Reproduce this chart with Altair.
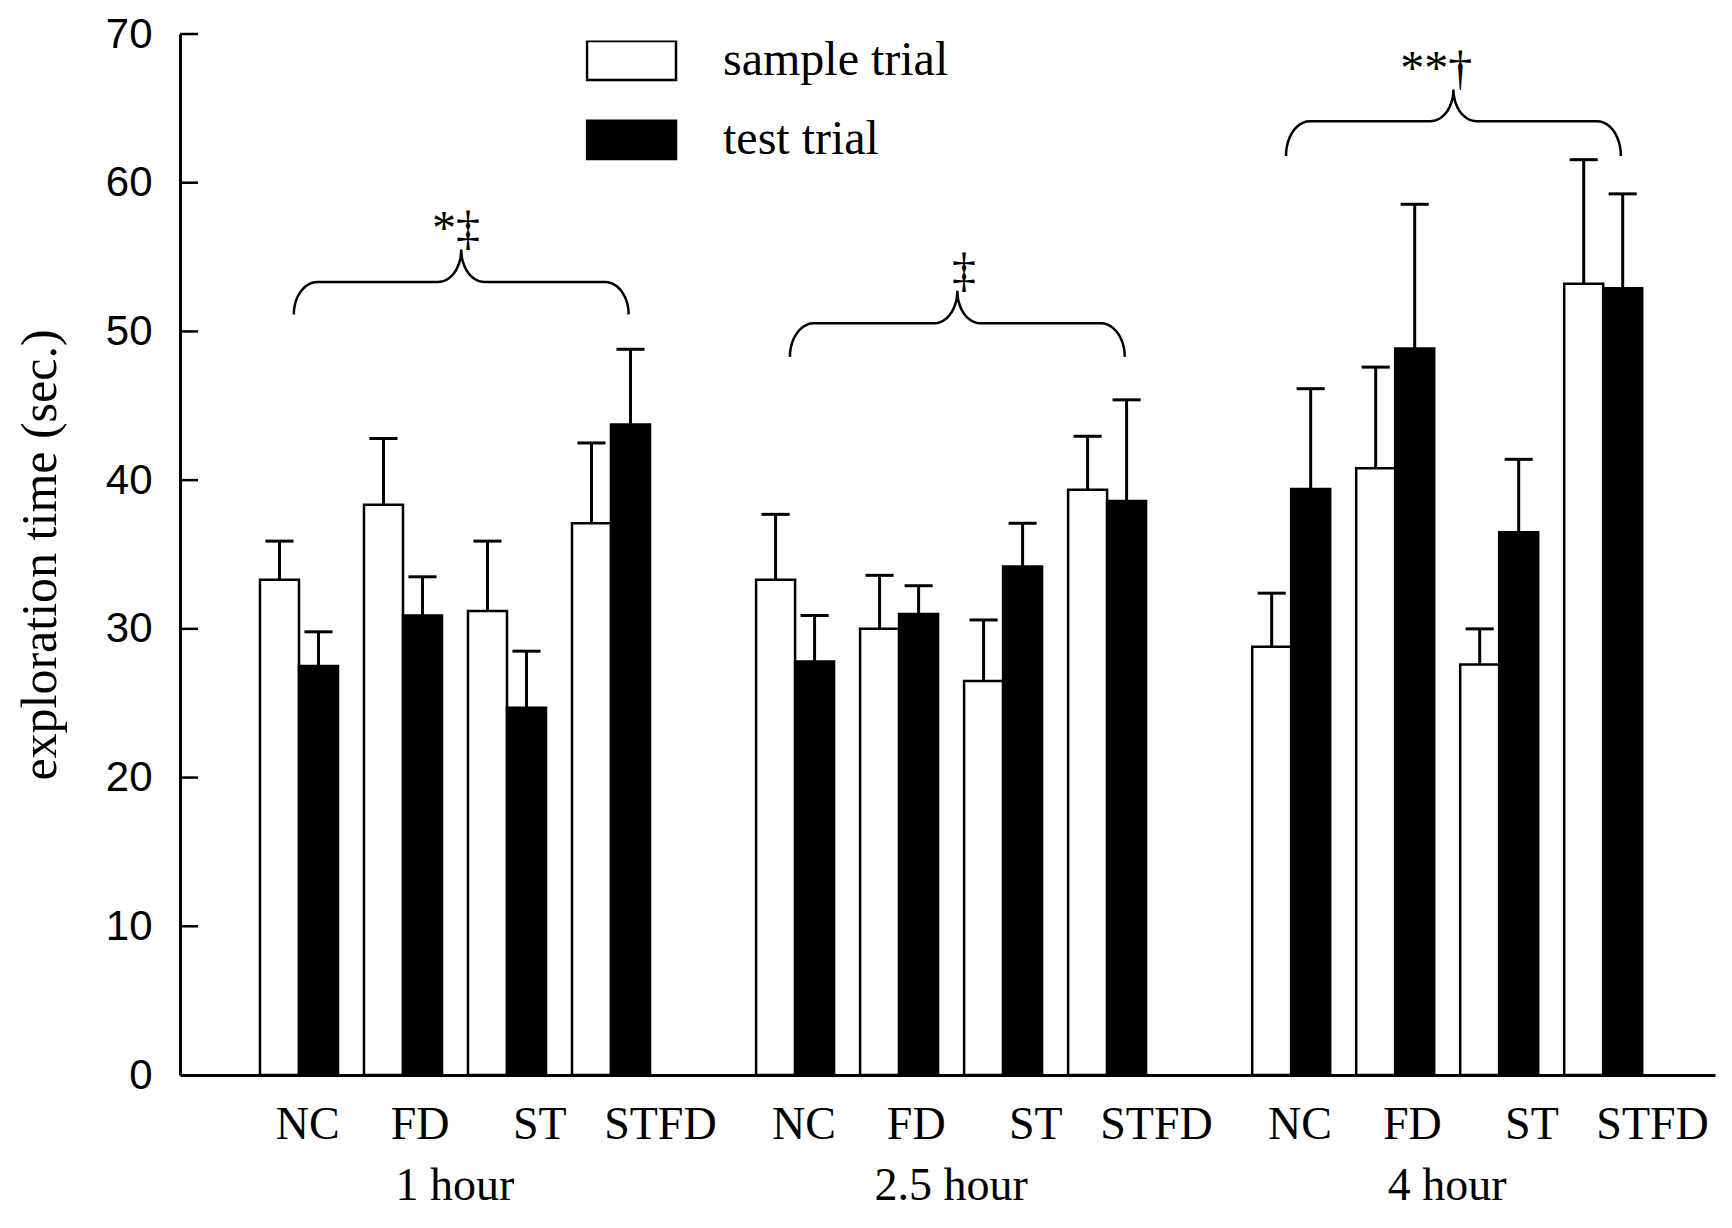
import json
import numpy as np
import pandas as pd
import altair as alt

# ---------------- data ----------------
hours = ["1 hour", "2.5 hour", "4 hour"]
treatments = ["NC", "FD", "ST", "STFD"]
trials = ["sample trial", "test trial"]

# order: hour-major, treatment-minor
sample_mean = [33.3, 38.35, 31.2, 37.1, 33.3, 30.0, 26.5, 39.35, 28.8, 40.8, 27.6, 53.2]
sample_se = [2.6, 4.45, 4.7, 5.4, 4.4, 3.6, 4.1, 3.6, 3.6, 6.8, 2.4, 8.35]
test_mean = [27.5, 30.9, 24.7, 43.75, 27.8, 31.0, 34.2, 38.6, 39.4, 48.85, 36.5, 52.9]
test_se = [2.3, 2.6, 3.8, 5.05, 3.1, 1.9, 2.9, 6.8, 6.75, 9.7, 4.9, 6.35]

sig_text = ["*\u2021", "\u2021", "**\u2020"]
brace_tip = [51.15, 48.29, 61.8]
brace_bar = [53.33, 50.55, 64.14]
brace_peak = [55.5, 52.73, 66.27]
y_ticks = [0, 10, 20, 30, 40, 50, 60, 70]

# ---------------- layout / style constants ----------------
GROUP_STEP = 4.77
BAR_W = 0.375
CAP_HALF = 0.135
X_DOMAIN = [-1.144, 13.615]
LABEL_NUDGE = [0.08, 0.16, 0.31, 0.47]
BRACE_PAD = (-0.05, 0.17)
END_W = 0.23
CUSP_W = 0.22
SIG_DX = 0.18
SIG_DY = 0.35
SERIF = "Liberation Serif"
SANS = "Liberation Sans"

# ---------------- tables ----------------
rows = []
for g, h in enumerate(hours):
    for t, tr in enumerate(treatments):
        i = g * 4 + t
        rows.append(dict(hour=h, treatment=tr, gi=g, ti=t, trial=trials[0],
                         mean=sample_mean[i], se=sample_se[i]))
        rows.append(dict(hour=h, treatment=tr, gi=g, ti=t, trial=trials[1],
                         mean=test_mean[i], se=test_se[i]))
df = pd.DataFrame(rows)

brace_rows = []
sig_rows = []
th = np.linspace(0, np.pi / 2, 12)
for g in range(len(hours)):
    xl = g * GROUP_STEP + BRACE_PAD[0]
    xr = g * GROUP_STEP + 3 + BRACE_PAD[1]
    xm = (xl + xr) / 2
    yb, yh, yp = brace_tip[g], brace_bar[g], brace_peak[g]
    pts = []
    pts += [(xl + END_W * (1 - np.cos(a)), yb + (yh - yb) * np.sin(a)) for a in th]
    pts += [(xm - CUSP_W + CUSP_W * np.sin(a), yh + (yp - yh) * (1 - np.cos(a))) for a in th]
    pts += [(xm + CUSP_W - CUSP_W * np.sin(a), yh + (yp - yh) * (1 - np.cos(a))) for a in th[::-1]]
    pts += [(xr - END_W * (1 - np.cos(a)), yb + (yh - yb) * np.sin(a)) for a in th[::-1]]
    for k, (bx, by) in enumerate(pts):
        brace_rows.append(dict(brace=g, k=k, bx=float(bx), by=float(by)))
    sig_rows.append(dict(sig=sig_text[g], sx=xm + SIG_DX, sy=yp + SIG_DY))
df_brace = pd.DataFrame(brace_rows)
df_sig = pd.DataFrame(sig_rows)
df_hours = pd.DataFrame({"hour": hours, "gi": list(range(len(hours)))})
df_ticks = pd.DataFrame({"v": y_ticks[1:]})

tick_vals = [round(g * GROUP_STEP + t + LABEL_NUDGE[t], 4)
             for g in range(len(hours)) for t in range(len(treatments))]
tick_labels = treatments * len(hours)
label_expr = f"{json.dumps(tick_labels)}[indexof({json.dumps(tick_vals)}, datum.value)]"

xscale = alt.Scale(domain=X_DOMAIN, nice=False, zero=False)
yscale = alt.Scale(domain=[0, 70], nice=False, zero=True)

x_axis = alt.Axis(values=tick_vals, labelExpr=label_expr, title=None, ticks=False, grid=False,
                  domainColor="black", domainWidth=3, labelFont=SERIF, labelFontSize=46,
                  labelColor="black", labelPadding=27, labelOverlap=False, labelFlush=False,
                  labelBound=False)
y_axis = alt.Axis(values=y_ticks, title="exploration time (sec.)", ticks=False, grid=False,
                  domainColor="black", domainWidth=3, labelFont=SANS, labelFontSize=42,
                  labelColor="black", labelPadding=28, labelFlush=False, labelOverlap=False,
                  titleFont=SERIF, titleFontSize=50, titleFontWeight="normal",
                  titleColor="black", titlePadding=40)

legend_path = "M-1,-0.44L1,-0.44L1,0.44L-1,0.44Z"

base = alt.Chart(df).transform_calculate(
    c=f"datum.gi * {GROUP_STEP} + datum.ti",
).transform_calculate(
    x1=f"datum.c - (datum.trial == '{trials[0]}' ? {BAR_W} : 0)",
).transform_calculate(
    x2=f"datum.x1 + {BAR_W}",
    xe=f"datum.x1 + {BAR_W / 2}",
    top="datum.mean + datum.se",
).transform_calculate(
    cl=f"datum.xe - {CAP_HALF}",
    cr=f"datum.xe + {CAP_HALF}",
)


def X(field):
    return alt.X(field, scale=xscale, axis=x_axis)


def Y(field):
    return alt.Y(field, scale=yscale, axis=y_axis)


bars = base.mark_bar(stroke="black", strokeWidth=2.5).encode(
    x=X("x1:Q"),
    x2="x2:Q",
    y=Y("mean:Q"),
    y2=alt.datum(0),
    fill=alt.Fill("trial:N", scale=alt.Scale(domain=trials, range=["white", "black"]),
                  legend=alt.Legend(title=None, orient="none", legendX=405.5, legendY=6.5,
                                    symbolType=legend_path, symbolSize=7921,
                                    symbolStrokeColor="black", symbolStrokeWidth=2.5,
                                    labelFont=SERIF, labelFontSize=48, labelColor="black",
                                    labelOffset=45.5, labelLimit=400, rowPadding=31,
                                    clipHeight=40, padding=0)),
)

err = base.mark_rule(color="black", strokeWidth=3).encode(
    x=X("xe:Q"),
    y=Y("mean:Q"),
    y2="top:Q",
)
caps = base.mark_rule(color="black", strokeWidth=3).encode(
    x=X("cl:Q"),
    x2="cr:Q",
    y=Y("top:Q"),
)

yticks = alt.Chart(df_ticks).mark_rule(color="black", strokeWidth=2.5).encode(
    y=Y("v:Q"),
    x=alt.value(0),
    x2=alt.value(18),
)

braces = alt.Chart(df_brace).mark_line(color="black", strokeWidth=2.5).encode(
    x=X("bx:Q"),
    y=Y("by:Q"),
    detail="brace:N",
    order="k:Q",
)

sigs = alt.Chart(df_sig).mark_text(font=SERIF, fontSize=48, align="right",
                                   baseline="alphabetic", color="black").encode(
    x=X("sx:Q"),
    y=Y("sy:Q"),
    text="sig:N",
)

hour_labels = alt.Chart(df_hours).transform_calculate(
    gx=f"datum.gi * {GROUP_STEP} + 1.5"
).mark_text(
    font=SERIF, fontSize=46, baseline="middle", align="center", color="black"
).encode(x=X("gx:Q"), y=alt.value(1152), text="hour:N")

chart = alt.layer(bars, err, caps, yticks, braces, sigs, hour_labels).properties(
    width=1535,
    height=1041,
    autosize=alt.AutoSizeParams(type="none"),
    padding={"left": 172, "top": 26, "right": 9, "bottom": 141},
).configure_view(stroke=None)

chart.save("out.html", embed_options={"renderer": "svg", "actions": False})
